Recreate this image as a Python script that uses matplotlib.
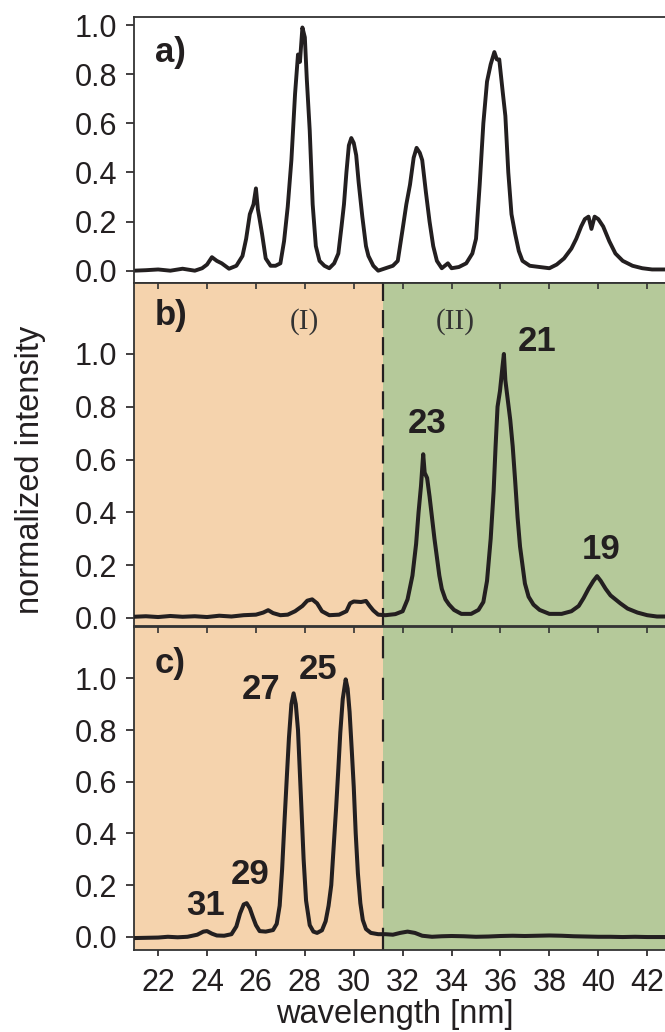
#!/usr/bin/env python3
"""
Three stacked spectra (a, b, c) with shaded regions (I) and (II)
"""

import matplotlib.pyplot as plt

plt.rcParams['font.family'] = ['Liberation Sans', 'DejaVu Sans']
plt.rcParams['lines.scale_dashes'] = False

# panel a spectrum (wavelength nm, normalized intensity)
wl_a = [21.0, 21.5, 22.0, 22.5, 23.0, 23.5, 23.8, 24.0, 24.2, 24.4, 24.6, 24.9,
        25.2, 25.45, 25.6, 25.75, 25.9, 26.0, 26.08, 26.15, 26.25, 26.4, 26.6,
        26.8, 27.0, 27.15, 27.3, 27.45, 27.6, 27.72, 27.8, 27.9, 28.0, 28.08,
        28.2, 28.32, 28.45, 28.6, 28.8, 29.0, 29.2, 29.37, 29.5, 29.6, 29.7,
        29.8, 29.9, 30.0, 30.1, 30.2, 30.35, 30.5, 30.6, 30.8, 31.0, 31.3, 31.6,
        31.8, 32.0, 32.15, 32.3, 32.45, 32.57, 32.7, 32.8, 32.95, 33.1, 33.25,
        33.4, 33.6, 33.85, 34.0, 34.3, 34.6, 34.85, 35.0, 35.15, 35.3, 35.45,
        35.6, 35.75, 35.85, 35.95, 36.1, 36.2, 36.32, 36.45, 36.6, 36.75, 36.9,
        37.2, 37.6, 38.0, 38.3, 38.6, 38.9, 39.1, 39.3, 39.45, 39.6, 39.72,
        39.85, 40.0, 40.2, 40.45, 40.7, 41.0, 41.4, 41.8, 42.2, 43.0]
int_a = [0.0, 0.002, 0.005, 0.0, 0.008, 0.0, 0.01, 0.025, 0.055, 0.04, 0.03, 0.008,
         0.02, 0.06, 0.13, 0.23, 0.27, 0.335, 0.25, 0.21, 0.15, 0.05, 0.02,
         0.02, 0.03, 0.12, 0.26, 0.45, 0.72, 0.88, 0.85, 0.99, 0.95, 0.78,
         0.57, 0.27, 0.1, 0.04, 0.02, 0.01, 0.03, 0.07, 0.18, 0.27, 0.4,
         0.51, 0.54, 0.52, 0.47, 0.36, 0.22, 0.1, 0.06, 0.02, 0.0, 0.01, 0.02,
         0.04, 0.17, 0.27, 0.35, 0.46, 0.5, 0.48, 0.45, 0.32, 0.2, 0.1,
         0.04, 0.01, 0.03, 0.01, 0.015, 0.03, 0.07, 0.13, 0.35, 0.6, 0.77,
         0.84, 0.89, 0.86, 0.86, 0.72, 0.63, 0.4, 0.23, 0.15, 0.08, 0.04,
         0.02, 0.015, 0.01, 0.025, 0.05, 0.09, 0.13, 0.18, 0.21, 0.22, 0.17,
         0.22, 0.21, 0.18, 0.12, 0.07, 0.04, 0.02, 0.01, 0.005, 0.005]

# panel b spectrum
wl_b = [21.0, 21.5, 22.0, 22.5, 23.0, 23.5, 24.0, 24.5, 25.0, 25.5, 26.0, 26.3,
        26.5, 26.7, 27.0, 27.3, 27.6, 27.9, 28.1, 28.3, 28.5, 28.7, 29.0, 29.4,
        29.7, 29.85, 30.0, 30.3, 30.5, 30.65, 30.8, 31.0, 31.3, 31.7, 32.0,
        32.2, 32.4, 32.55, 32.65, 32.75, 32.84, 32.9, 33.0, 33.1, 33.2, 33.3,
        33.4, 33.5, 33.6, 33.75, 33.9, 34.1, 34.4, 34.8, 35.1, 35.3, 35.45,
        35.6, 35.72, 35.8, 35.88, 35.98, 36.08, 36.14, 36.2, 36.28, 36.4, 36.5,
        36.6, 36.7, 36.8, 36.9, 37.0, 37.15, 37.35, 37.6, 38.0, 38.5, 38.9,
        39.2, 39.4, 39.6, 39.8, 39.95, 40.1, 40.3, 40.5, 40.7, 40.9, 41.2,
        41.6, 42.0, 42.4, 43.0]
int_b = [0.004, 0.006, 0.003, 0.007, 0.004, 0.006, 0.003, 0.008, 0.005, 0.01, 0.012, 0.02,
         0.029, 0.018, 0.01, 0.012, 0.025, 0.045, 0.065, 0.07, 0.055, 0.025, 0.01, 0.012,
         0.025, 0.055, 0.062, 0.06, 0.064, 0.045, 0.028, 0.012, 0.01, 0.014, 0.025,
         0.07, 0.16, 0.28, 0.4, 0.5, 0.62, 0.55, 0.53, 0.46, 0.38, 0.3,
         0.23, 0.16, 0.11, 0.07, 0.05, 0.03, 0.015, 0.015, 0.03, 0.06, 0.14,
         0.3, 0.48, 0.65, 0.8, 0.86, 0.95, 1.0, 0.9, 0.84, 0.75, 0.65,
         0.52, 0.38, 0.27, 0.2, 0.13, 0.08, 0.05, 0.03, 0.015, 0.015, 0.025,
         0.045, 0.075, 0.11, 0.14, 0.158, 0.14, 0.11, 0.085, 0.07, 0.055, 0.035,
         0.02, 0.01, 0.005, 0.005]

# panel c spectrum
wl_c = [21.0, 21.5, 22.0, 22.4, 22.8, 23.2, 23.6, 23.85, 24.0, 24.2, 24.4, 24.7,
        25.0, 25.2, 25.35, 25.5, 25.62, 25.75, 25.88, 26.0, 26.15, 26.4, 26.7,
        26.85, 26.97, 27.07, 27.17, 27.27, 27.35, 27.45, 27.54, 27.63, 27.72,
        27.85, 27.95, 28.05, 28.2, 28.35, 28.5, 28.7, 28.85, 28.97, 29.08,
        29.18, 29.28, 29.37, 29.45, 29.55, 29.67, 29.75, 29.83, 29.92, 30.0,
        30.08, 30.17, 30.27, 30.37, 30.5, 30.7, 31.0, 31.3, 31.6, 31.9, 32.2,
        32.5, 32.8, 33.2, 33.6, 34.0, 34.5, 35.0, 35.5, 36.0, 36.5, 37.0, 37.5,
        38.0, 38.5, 39.0, 39.5, 40.0, 40.5, 41.0, 41.5, 42.0, 43.0]
int_c = [-0.005, -0.004, -0.003, 0.0, -0.002, 0.0, 0.008, 0.02, 0.022, 0.012, 0.005, 0.004,
         0.01, 0.04, 0.09, 0.125, 0.13, 0.11, 0.075, 0.045, 0.022, 0.02, 0.026,
         0.05, 0.12, 0.26, 0.45, 0.63, 0.77, 0.9, 0.942, 0.9, 0.8,
         0.52, 0.3, 0.14, 0.045, 0.02, 0.015, 0.025, 0.06, 0.12, 0.2,
         0.35, 0.5, 0.65, 0.79, 0.92, 0.996, 0.96, 0.87, 0.72, 0.58,
         0.4, 0.245, 0.13, 0.065, 0.03, 0.015, 0.01, 0.01, 0.008, 0.015, 0.02,
         0.015, 0.004, 0.0, 0.002, 0.003, 0.002, 0.0, 0.001, 0.003, 0.004, 0.003, 0.004,
         0.005, 0.004, 0.002, 0.001, 0.0, 0.0, -0.001, 0.0, -0.001, -0.001]

# harmonic order labels: (text, wavelength, intensity)
labels_b = [('23', 33.01, 0.737), ('21', 37.48, 1.049), ('19', 40.10, 0.26)]
labels_c = [('31', 23.94, 0.12), ('29', 25.75, 0.242), ('27', 26.19, 0.958),
            ('25', 28.55, 1.035)]

x_ticks = [22, 24, 26, 28, 30, 32, 34, 36, 38, 40, 42]
y_ticks = [0.0, 0.2, 0.4, 0.6, 0.8, 1.0]
boundary = 31.19

PEACH = '#F5D3AD'
GREEN = '#B5C99A'
INK = '#231F20'


def style_axis(ax, ylim):
    ax.set_xlim(21, 43)
    ax.set_ylim(*ylim)
    ax.set_yticks(y_ticks)
    ax.set_yticklabels([f'{v:.1f}' for v in y_ticks])
    ax.tick_params(axis='y', direction='out', length=6, width=1.2,
                   pad=6, labelsize=22, colors=INK)
    ax.tick_params(axis='x', bottom=False, labelbottom=False)
    ax.spines['right'].set_visible(False)
    for s in ('left', 'top', 'bottom'):
        ax.spines[s].set_color('#333333')
        ax.spines[s].set_linewidth(1.3)


def main():
    fig = plt.figure(figsize=(6.65, 10.32), dpi=100)
    left, width = 0.201, 0.809
    ax_a = fig.add_axes([left, 0.7258, width, 0.2578])
    ax_b = fig.add_axes([left, 0.3934, width, 0.3321])
    ax_c = fig.add_axes([left, 0.0795, width, 0.3133])

    style_axis(ax_a, (-0.05, 1.033))
    style_axis(ax_b, (-0.031, 1.268))
    style_axis(ax_c, (-0.051, 1.20))

    # spectra
    ax_a.plot(wl_a, int_a, color=INK, lw=2.8)
    ax_b.plot(wl_b, int_b, color=INK, lw=2.9, zorder=3)
    ax_c.plot(wl_c, int_c, color=INK, lw=2.9, zorder=3)

    # shaded regions and the dashed boundary
    for ax, dash in ((ax_b, (13, 6.5)), (ax_c, (16, 14))):
        ax.axvspan(21, boundary, color=PEACH, lw=0, zorder=0)
        ax.axvspan(boundary, 43, color=GREEN, lw=0, zorder=0)
        ax.axvline(boundary, color=INK, lw=1.6, linestyle=(0, dash), zorder=2)
        top = ax.secondary_xaxis('top')
        top.set_xticks(x_ticks)
        top.tick_params(direction='in', length=4, width=1.2, labeltop=False,
                        colors='#333333')
        top.spines['top'].set_visible(False)

    # bottom axis of panel c
    ax_c.set_xticks(x_ticks)
    ax_c.tick_params(axis='x', bottom=True, labelbottom=True, direction='out',
                     length=4, width=1.2, pad=9, labelsize=22, colors=INK)

    # panel letters
    for ax, letter, yf in ((ax_a, 'a)', 0.868), (ax_b, 'b)', 0.905), (ax_c, 'c)', 0.886)):
        ax.text(0.039, yf, letter, transform=ax.transAxes, fontsize=25,
                fontweight='bold', color=INK, ha='left', va='center')

    # region names
    for name, xpos in (('(I)', 27.99), ('(II)', 34.14)):
        ax_b.text(xpos, 1.122, name, fontsize=21, color='#333333',
                  family=['Liberation Serif', 'DejaVu Serif'],
                  ha='center', va='center')

    # harmonic orders
    for ax, labels in ((ax_b, labels_b), (ax_c, labels_c)):
        for txt, xv, yv in labels:
            ax.text(xv, yv, txt, fontsize=25, fontweight='bold', color=INK,
                    ha='center', va='center', zorder=4)

    fig.text(31 / 665, 1 - 470 / 1032, 'normalized intensity', rotation=90,
             fontsize=23.5, color=INK, ha='center', va='center')
    fig.text(394.5 / 665, 1 - 1015 / 1032, 'wavelength [nm]',
             fontsize=23.5, color=INK, ha='center', va='center')

    fig.savefig('out.png', dpi=100)


if __name__ == '__main__':
    main()
